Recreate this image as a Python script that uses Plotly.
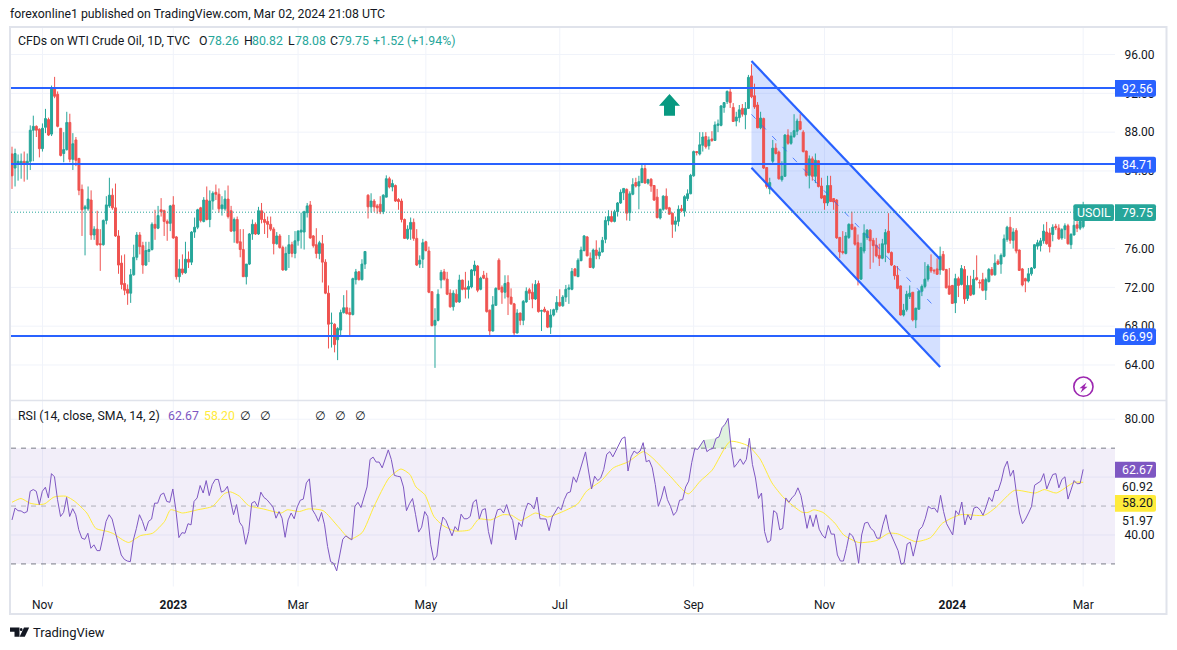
"""WTI crude daily candles with RSI pane, TradingView look."""

import plotly.graph_objects as go
import numpy as np

COLORS = {
    "up": "#26a69a",
    "down": "#ef5350",
    "blue": "#2962ff",
    "rsi": "#7e57c2",
    "sma": "#ffeb3b",
    "text": "#131722",
    "grid": "#f0f3fa",
    "border": "#e0e3eb",
    "arrow": "#089981",
    "bolt": "#9c27b0",
}
FONT = "Roboto, sans-serif"

# ── Price data ────────────────────────────────────────────────────────────

opens = [
    85.75, 84.3, 84.8, 84.8, 85.0, 84.8, 85.0, 88.2, 88.6, 88.3,
    86.3, 88.5, 89.3, 87.8, 92.5, 91.9, 88.4, 85.8, 86.2, 89.0,
    85.2, 87.2, 85.3, 82.1, 80.1, 80.1, 81.0, 77.4, 78.0, 76.5,
    76.4, 78.9, 80.4, 81.5, 80.2, 77.3, 74.5, 72.4, 71.8, 71.4,
    73.3, 75.1, 77.4, 76.3, 74.3, 75.7, 75.9, 78.5, 78.1, 80.0,
    79.9, 78.8, 78.6, 80.5, 77.2, 73.1, 73.9, 73.5, 74.9, 74.6,
    77.7, 78.2, 80.2, 78.8, 81.0, 79.0, 80.9, 81.8, 81.6, 80.1,
    80.1, 81.1, 79.9, 77.8, 79.0, 76.7, 75.9, 73.1, 74.4, 77.5,
    78.5, 77.5, 79.9, 79.0, 78.8, 78.5, 78.0, 76.5, 77.3, 76.1,
    73.8, 75.5, 76.4, 75.5, 76.8, 77.7, 77.7, 79.7, 80.5, 77.3,
    76.4, 75.5, 76.5, 74.6, 71.4, 68.3, 68.2, 66.6, 67.6, 69.4,
    69.9, 69.4, 69.2, 72.8, 73.6, 72.8, 74.4, 81.5, 80.3, 80.9,
    80.4, 80.57, 79.8, 81.3, 83.2, 82.35, 82.5, 81.05, 80.9, 79.0,
    77.05, 78.0, 78.7, 77.05, 74.4, 74.9, 76.7, 75.75, 71.55, 68.1,
    68.6, 72.75, 73.6, 72.85, 71.4, 70.0, 71.3, 70.5, 72.75, 71.95,
    71.8, 72.05, 73.7, 74.2, 71.8, 73.25, 72.95, 69.65, 67.5, 70.15,
    74.8, 72.0, 71.5, 72.5, 71.0, 70.3, 67.3, 69.35, 68.6, 70.5,
    71.75, 71.5, 70.8, 72.4, 69.55, 69.75, 69.55, 67.9, 69.15, 69.7,
    70.45, 70.1, 71.0, 71.8, 71.8, 73.9, 73.1, 74.75, 75.8, 77.2,
    75.0, 74.05, 75.85, 75.25, 75.65, 76.95, 78.85, 79.3, 78.8, 79.8,
    80.7, 81.75, 82.1, 79.7, 81.6, 82.8, 82.45, 82.8, 84.25, 82.75,
    83.15, 82.5, 81.3, 79.15, 80.05, 81.4, 80.2, 79.65, 78.5, 78.8,
    80.1, 79.85, 81.15, 81.65, 83.5, 86.0, 85.75, 86.65, 87.55, 86.6,
    87.3, 87.15, 88.7, 88.7, 90.55, 91.15, 92.15, 90.55, 89.15, 89.5,
    90.45, 89.8, 90.45, 93.8, 91.75, 90.8, 88.45, 89.4, 84.35, 82.15,
    85.0, 86.35, 85.95, 83.1, 83.45, 87.7, 86.85, 87.55, 88.1, 89.1,
    88.0, 86.05, 83.55, 85.25, 83.45, 85.05, 82.45, 81.45, 80.7, 82.5,
    81.15, 81.0, 77.15, 75.7, 75.5, 77.15, 78.5, 78.15, 76.6, 72.85,
    75.75, 77.15, 77.9, 76.85, 76.35, 75.3, 75.0, 76.45, 77.8, 75.6,
    74.2, 73.25, 72.15, 69.15, 69.7, 71.05, 71.5, 68.65, 69.75, 71.6,
    72.1, 72.85, 74.05, 73.75, 73.9, 73.8, 75.4, 73.85, 72.15, 72.2,
    70.4, 72.9, 72.3, 73.85, 70.85, 72.2, 71.3, 73.0, 72.5, 72.8,
    71.7, 72.6, 73.85, 73.3, 74.7, 74.4, 75.2, 76.95, 78.2, 76.85,
    77.85, 75.85, 73.9, 72.9, 72.65, 73.4, 74.0, 76.25, 76.3, 76.8,
    77.7, 77.6, 77.45, 78.3, 78.1, 77.1, 77.95, 78.35, 76.4, 77.4,
    78.45, 78.1, 78.26,
]
highs = [
    86.5, 86.3, 85.7, 85.8, 86.0, 85.8, 88.7, 89.7, 88.7, 88.4,
    88.9, 90.4, 89.5, 92.8, 93.7, 92.2, 88.4, 88.0, 90.1, 89.9,
    87.9, 87.5, 85.3, 82.6, 80.5, 82.4, 82.0, 78.3, 79.9, 78.0,
    79.0, 81.4, 83.3, 82.2, 82.7, 77.9, 75.3, 75.4, 72.3, 73.9,
    76.4, 77.7, 77.7, 76.7, 76.7, 76.7, 78.7, 80.0, 80.4, 81.2,
    80.0, 79.0, 80.5, 81.4, 77.3, 74.9, 75.4, 76.7, 75.7, 77.8,
    79.2, 80.1, 80.3, 81.3, 82.4, 82.0, 81.9, 82.6, 82.2, 81.4,
    82.0, 82.5, 80.4, 79.2, 79.3, 78.0, 78.0, 74.4, 77.6, 79.0,
    78.7, 80.3, 80.7, 79.7, 79.3, 79.3, 78.2, 77.7, 77.5, 76.3,
    76.2, 77.4, 76.7, 77.8, 77.9, 79.7, 79.9, 80.7, 80.9, 77.4,
    78.1, 76.8, 77.4, 74.9, 72.2, 69.4, 68.3, 67.9, 69.7, 71.2,
    71.7, 69.9, 73.0, 73.9, 73.7, 74.9, 75.7, 81.6, 81.7, 81.1,
    80.6, 81.4, 81.6, 83.55, 83.4, 83.1, 82.6, 81.2, 81.15, 79.1,
    78.4, 79.2, 79.1, 78.0, 75.3, 77.0, 76.8, 76.2, 71.6, 69.85,
    71.8, 73.8, 73.9, 73.6, 71.8, 71.7, 71.8, 73.3, 72.8, 73.6,
    72.7, 73.9, 74.75, 74.3, 73.1, 73.7, 73.5, 69.7, 71.1, 72.0,
    75.0, 72.2, 73.25, 73.25, 71.9, 70.4, 69.75, 69.4, 70.7, 72.0,
    71.95, 72.4, 72.75, 72.7, 69.7, 70.0, 69.6, 69.75, 69.8, 71.1,
    71.8, 71.2, 72.25, 72.3, 74.0, 74.0, 75.0, 76.2, 77.4, 77.3,
    75.6, 76.0, 76.85, 76.1, 77.2, 79.3, 79.95, 79.9, 80.0, 80.8,
    82.1, 82.2, 82.2, 81.9, 83.25, 83.3, 83.5, 84.8, 84.8, 83.2,
    83.25, 82.5, 82.15, 80.1, 81.5, 82.2, 80.3, 79.7, 79.3, 80.45,
    80.5, 81.5, 82.1, 83.7, 86.1, 86.05, 88.0, 88.0, 88.0, 87.55,
    88.1, 89.1, 89.3, 90.8, 91.1, 92.3, 92.6, 91.0, 90.1, 90.8,
    90.9, 91.1, 93.9, 95.0, 93.0, 91.1, 90.1, 89.5, 84.4, 83.3,
    87.2, 86.85, 86.1, 85.0, 87.8, 88.3, 88.0, 89.85, 89.4, 89.85,
    88.2, 86.1, 85.6, 85.5, 85.8, 85.1, 83.3, 81.5, 83.5, 83.5,
    81.2, 81.1, 77.2, 77.8, 77.7, 78.6, 79.8, 78.3, 77.45, 76.6,
    78.5, 78.0, 78.0, 77.1, 77.1, 76.5, 77.0, 78.0, 79.65, 75.7,
    74.3, 74.2, 72.2, 70.3, 71.65, 72.2, 71.5, 69.9, 71.7, 72.3,
    74.6, 74.4, 75.4, 73.9, 75.0, 76.2, 75.75, 73.9, 74.0, 72.25,
    73.4, 73.1, 74.3, 74.2, 73.2, 73.2, 73.8, 75.3, 72.8, 73.5,
    73.0, 74.0, 74.1, 75.4, 74.9, 75.5, 77.45, 78.35, 79.25, 78.1,
    78.1, 75.9, 74.0, 73.0, 74.0, 74.1, 76.45, 76.9, 77.1, 78.5,
    78.75, 78.1, 78.5, 78.55, 78.5, 78.1, 78.6, 78.55, 77.6, 78.9,
    79.6, 79.3, 80.82,
]
lows = [
    82.15, 82.4, 83.0, 83.2, 82.9, 83.1, 84.1, 85.0, 87.5, 85.4,
    86.0, 87.9, 87.6, 87.6, 91.5, 88.5, 85.5, 84.9, 86.1, 84.9,
    84.1, 84.5, 81.5, 77.3, 75.3, 79.9, 76.9, 76.9, 76.3, 73.7,
    76.3, 78.5, 80.2, 80.0, 77.2, 73.4, 71.8, 71.2, 70.2, 70.4,
    73.2, 74.8, 75.4, 73.4, 74.2, 74.6, 75.8, 76.9, 78.0, 79.3,
    77.3, 76.8, 77.8, 77.0, 72.8, 72.5, 73.3, 73.4, 74.0, 74.3,
    77.1, 78.0, 78.7, 78.7, 78.9, 78.2, 80.0, 81.0, 79.7, 79.4,
    79.9, 79.1, 77.7, 76.6, 76.5, 75.1, 73.1, 72.3, 74.3, 76.9,
    77.4, 77.4, 78.6, 77.5, 77.1, 77.8, 75.4, 76.4, 76.0, 73.7,
    73.7, 74.0, 75.1, 75.0, 76.3, 76.0, 75.9, 79.2, 77.0, 76.1,
    75.0, 74.9, 72.5, 71.3, 65.7, 65.8, 65.3, 64.5, 66.9, 69.3,
    69.2, 67.0, 69.1, 72.3, 72.7, 72.7, 73.9, 79.1, 79.7, 79.8,
    79.6, 79.55, 79.55, 81.3, 82.2, 81.9, 80.8, 80.0, 78.7, 77.0,
    76.9, 76.9, 76.8, 74.2, 74.0, 74.0, 75.7, 71.4, 68.0, 63.7,
    68.5, 71.9, 72.7, 71.2, 69.9, 69.6, 70.4, 70.4, 71.7, 70.85,
    70.85, 71.9, 73.2, 71.5, 71.7, 72.85, 69.4, 67.0, 67.45, 70.1,
    71.7, 70.3, 70.85, 69.15, 70.2, 67.0, 67.25, 68.1, 68.1, 70.4,
    70.7, 69.85, 70.7, 69.4, 67.5, 69.4, 67.8, 67.2, 69.0, 69.4,
    70.0, 70.0, 70.5, 70.3, 71.7, 73.15, 73.1, 74.7, 75.7, 75.2,
    74.0, 73.9, 74.9, 74.9, 75.6, 76.55, 78.4, 78.7, 78.7, 79.3,
    80.6, 81.0, 78.9, 78.85, 81.5, 82.3, 80.05, 82.75, 82.7, 82.6,
    81.85, 80.9, 79.1, 79.0, 79.9, 80.0, 79.5, 77.1, 77.75, 78.3,
    79.75, 79.3, 80.9, 81.6, 83.4, 85.6, 85.6, 86.0, 86.3, 86.2,
    87.0, 87.1, 88.0, 88.6, 90.0, 90.9, 90.5, 89.05, 88.6, 89.0,
    89.6, 88.3, 90.4, 91.5, 90.4, 88.4, 88.3, 84.2, 82.2, 81.6,
    84.7, 85.7, 83.1, 82.9, 83.4, 86.7, 86.7, 87.4, 87.7, 88.2,
    85.9, 83.4, 82.2, 83.0, 82.75, 82.3, 81.1, 80.0, 80.4, 80.8,
    80.0, 77.0, 75.0, 75.4, 75.4, 77.0, 77.9, 76.3, 72.2, 72.8,
    75.5, 76.9, 73.9, 74.55, 75.1, 74.2, 74.9, 74.6, 75.5, 74.2,
    72.8, 71.8, 69.1, 69.0, 69.5, 70.8, 68.5, 67.8, 69.7, 71.1,
    71.9, 72.6, 73.5, 73.4, 73.3, 73.3, 73.7, 71.9, 71.25, 70.3,
    69.35, 71.0, 72.2, 70.3, 70.6, 71.1, 71.2, 72.7, 71.9, 71.6,
    70.7, 72.5, 73.2, 73.2, 74.3, 73.4, 75.1, 76.7, 76.5, 76.0,
    75.5, 73.7, 72.1, 71.5, 72.5, 73.2, 73.9, 75.9, 75.7, 76.5,
    76.4, 75.6, 76.75, 77.9, 76.9, 76.9, 77.0, 76.4, 75.95, 77.35,
    77.7, 77.9, 78.08,
]
closes = [
    83.5, 85.8, 85.0, 85.0, 84.8, 85.0, 88.2, 88.6, 88.2, 86.3,
    88.4, 89.4, 87.7, 92.6, 91.7, 88.6, 85.6, 86.2, 89.0, 85.2,
    86.8, 85.1, 82.0, 80.0, 80.3, 81.1, 77.4, 78.0, 76.4, 76.4,
    78.9, 80.5, 81.5, 80.2, 77.3, 74.3, 72.3, 71.7, 71.4, 73.3,
    75.1, 77.4, 76.2, 74.3, 75.8, 75.9, 78.5, 78.1, 79.4, 79.8,
    78.8, 78.6, 80.4, 77.1, 73.1, 73.9, 73.5, 74.9, 74.6, 77.7,
    78.2, 80.0, 78.9, 81.0, 79.0, 80.9, 81.7, 81.6, 80.1, 80.5,
    81.1, 79.3, 77.8, 79.0, 76.6, 75.9, 73.1, 74.4, 77.5, 78.5,
    77.5, 79.9, 79.0, 78.7, 78.5, 78.0, 76.5, 77.3, 76.1, 73.8,
    75.5, 76.4, 75.5, 76.8, 77.8, 77.9, 79.8, 80.4, 77.1, 76.3,
    75.5, 76.6, 74.6, 71.4, 68.2, 68.3, 66.1, 67.75, 69.4, 69.9,
    69.3, 69.2, 72.9, 73.6, 72.8, 74.4, 75.7, 80.3, 80.9, 80.3,
    80.2, 79.8, 81.5, 83.2, 82.35, 82.7, 80.9, 80.85, 79.0, 77.05,
    78.0, 78.7, 77.05, 74.3, 74.8, 76.6, 75.8, 71.5, 68.05, 68.6,
    71.3, 73.55, 72.85, 71.3, 70.0, 71.4, 70.5, 72.75, 71.8, 71.8,
    72.1, 73.8, 74.3, 71.7, 72.95, 72.95, 69.5, 67.5, 70.2, 71.9,
    71.8, 71.5, 72.4, 71.0, 70.3, 67.3, 69.35, 68.6, 70.55, 71.6,
    71.4, 70.8, 72.3, 69.5, 69.6, 69.5, 67.9, 69.15, 69.7, 70.45,
    70.1, 71.0, 71.8, 71.95, 73.65, 73.2, 74.8, 75.85, 77.3, 75.25,
    74.05, 75.85, 75.3, 75.65, 76.85, 78.9, 79.3, 78.8, 79.8, 80.7,
    81.8, 82.2, 79.65, 81.65, 82.6, 82.45, 82.9, 84.25, 82.75, 83.1,
    82.45, 81.0, 79.2, 80.05, 81.4, 80.1, 79.55, 78.5, 78.85, 80.05,
    79.9, 81.35, 81.65, 83.55, 86.0, 85.9, 86.7, 87.5, 86.5, 87.2,
    87.15, 88.75, 88.85, 90.7, 91.05, 92.2, 91.05, 89.1, 89.55, 90.3,
    89.85, 90.45, 93.65, 91.65, 90.6, 88.45, 89.45, 84.3, 82.4, 82.8,
    86.35, 85.8, 83.2, 83.45, 87.7, 86.85, 87.6, 88.15, 89.15, 88.3,
    86.0, 83.55, 85.25, 83.45, 85.1, 82.4, 81.2, 80.7, 82.5, 80.85,
    80.8, 77.1, 75.65, 75.6, 77.3, 78.5, 78.0, 76.45, 72.85, 76.1,
    77.6, 77.9, 76.8, 76.3, 75.25, 75.0, 76.5, 77.65, 75.6, 74.3,
    73.2, 71.9, 69.15, 69.65, 71.3, 71.4, 68.65, 69.85, 71.6, 72.1,
    72.85, 74.2, 73.7, 73.7, 73.35, 75.2, 73.8, 71.95, 71.3, 70.35,
    72.9, 72.2, 73.95, 70.8, 72.2, 71.2, 72.85, 72.8, 72.45, 71.7,
    72.8, 73.85, 73.3, 74.5, 74.4, 75.3, 77.0, 78.2, 76.85, 77.7,
    75.75, 73.75, 72.25, 72.65, 73.4, 74.0, 76.4, 76.6, 76.8, 77.8,
    76.5, 76.2, 78.2, 78.15, 77.0, 77.95, 78.35, 76.5, 77.45, 78.4,
    78.1, 78.8, 79.75,
]

# ── RSI data ──────────────────────────────────────────────────────────────

rsi = [
    45.2, 49.3, 48.4, 48.3, 47.6, 48.1, 55.1, 55.7, 55.1, 50.5,
    55.1, 56.5, 52.8, 61.2, 60.1, 52.2, 46.4, 47.8, 53.0, 46.4,
    49.1, 47.0, 41.8, 38.9, 38.5, 40.6, 35.4, 36.6, 34.6, 34.6,
    39.4, 44.7, 47.0, 45.5, 41.2, 36.6, 33.1, 31.6, 31.0, 30.8,
    38.3, 42.3, 47.0, 44.7, 41.4, 44.7, 45.5, 51.0, 51.0, 53.9,
    54.5, 51.6, 51.3, 55.9, 48.7, 39.1, 40.8, 40.6, 43.9, 43.5,
    51.6, 52.8, 57.1, 54.5, 58.8, 53.6, 57.4, 59.2, 59.2, 54.8,
    55.3, 56.8, 51.6, 47.0, 50.5, 44.4, 42.9, 36.8, 41.2, 51.0,
    51.6, 49.7, 54.8, 53.0, 52.2, 51.0, 49.7, 45.8, 48.1, 45.8,
    39.2, 45.2, 47.6, 45.6, 49.7, 52.0, 52.4, 58.0, 59.4, 48.7,
    47.0, 44.7, 47.8, 43.5, 36.0, 30.8, 30.2, 27.6, 33.1, 38.5,
    39.7, 39.1, 38.3, 49.9, 51.3, 49.5, 53.4, 56.6, 66.1, 66.9,
    65.2, 65.2, 63.2, 66.3, 69.4, 66.1, 60.6, 60.3, 60.1, 56.6,
    48.4, 50.8, 52.6, 47.0, 41.0, 42.7, 48.1, 46.4, 36.6, 31.3,
    32.7, 41.2, 46.2, 45.0, 42.3, 39.7, 42.9, 41.5, 47.2, 45.6,
    45.6, 46.4, 51.3, 52.2, 45.6, 48.7, 49.1, 41.2, 36.8, 45.2,
    48.7, 49.0, 47.6, 50.5, 47.0, 45.0, 38.3, 44.3, 42.9, 48.1,
    51.0, 50.5, 49.0, 53.1, 45.6, 45.6, 45.5, 41.5, 46.2, 47.9,
    49.7, 48.7, 52.2, 54.5, 54.9, 60.1, 58.2, 61.7, 65.0, 68.7,
    62.1, 55.9, 60.3, 58.8, 59.7, 62.6, 67.9, 68.8, 67.0, 69.0,
    71.3, 73.3, 73.9, 62.1, 67.0, 69.0, 68.2, 69.0, 71.9, 65.3,
    65.8, 63.2, 57.4, 49.9, 52.8, 56.8, 52.2, 49.9, 46.8, 48.1,
    52.0, 52.2, 56.6, 58.6, 65.0, 69.8, 69.6, 71.3, 72.8, 68.8,
    69.6, 69.9, 73.4, 73.9, 77.1, 78.3, 80.3, 70.2, 63.4, 64.7,
    66.3, 64.4, 66.1, 73.4, 64.4, 59.7, 52.6, 54.5, 41.2, 37.4,
    38.1, 48.4, 47.6, 41.8, 42.3, 52.8, 51.3, 52.8, 53.9, 56.3,
    53.6, 48.1, 42.3, 46.8, 42.9, 47.0, 42.0, 40.0, 38.9, 43.3,
    40.3, 40.3, 33.1, 31.0, 31.0, 35.4, 40.6, 39.7, 37.1, 30.2,
    40.0, 44.1, 44.4, 42.3, 41.4, 38.9, 38.9, 43.5, 47.0, 41.8,
    39.2, 37.1, 34.6, 29.9, 30.4, 36.9, 37.5, 32.7, 37.1, 41.8,
    42.9, 45.8, 49.9, 49.1, 49.3, 47.8, 53.7, 48.1, 43.9, 42.0,
    40.0, 48.4, 47.0, 51.4, 43.5, 47.0, 45.2, 49.3, 49.7, 48.7,
    46.8, 49.7, 53.0, 51.6, 55.4, 55.4, 58.6, 63.2, 65.5, 60.3,
    62.4, 54.5, 47.6, 43.9, 45.5, 47.6, 49.9, 57.2, 58.0, 58.6,
    61.2, 55.9, 58.6, 60.9, 61.2, 56.3, 59.2, 60.1, 52.4, 55.9,
    58.8, 57.7, 57.8, 62.67,
]
sma_bars = [
    0, 3, 6, 9, 11, 14, 18, 21, 25, 28, 32, 34, 37, 39, 43, 47, 51, 53, 57,
    62, 67, 71, 73, 76, 79, 84, 90, 92, 96, 99, 104, 109, 113, 117, 121, 126,
    130, 133, 135, 138, 141, 144, 148, 153, 156, 160, 164, 167, 170, 175, 179,
    183, 189, 192, 197, 201, 206, 211, 214, 220, 226, 230, 234, 240, 246, 250,
    254, 258, 264, 266, 268, 271, 275, 278, 283, 289, 293, 296, 302, 307, 311,
    317, 325, 329, 335, 342, 345, 349, 355, 358,
]
sma_vals = [
    51.3, 52.6, 51.0, 50.5, 50.8, 53.1, 53.4, 51.6, 47.6, 42.3, 41.2, 40.4,
    38.3, 37.4, 39.8, 40.6, 44.7, 48.7, 47.6, 48.7, 49.9, 54.3, 54.9, 53.4,
    50.2, 49.0, 47.6, 48.7, 48.1, 49.0, 48.4, 42.9, 38.6, 40.8, 49.9, 59.7,
    62.8, 60.9, 56.6, 53.9, 46.4, 43.3, 41.4, 41.8, 45.5, 45.2, 47.0, 46.8,
    45.0, 47.6, 46.2, 47.6, 50.7, 55.1, 58.8, 63.2, 65.3, 68.8, 66.7, 60.3,
    54.2, 58.6, 62.4, 72.3, 70.8, 66.3, 58.0, 52.8, 47.9, 47.8, 48.7, 47.8,
    44.1, 40.0, 37.4, 38.1, 40.6, 40.4, 37.7, 39.1, 44.1, 47.0, 46.8, 49.7,
    55.4, 54.5, 55.7, 54.5, 58.2, 58.2,
]

# ── Axis ticks and drawings ───────────────────────────────────────────────

date_ticks = [10, 53, 94, 136, 180, 224, 267, 309, 352]
date_labels = ["Nov", "<b>2023</b>", "Mar", "May", "Jul", "Sep", "Nov", "<b>2024</b>", "Mar"]
price_ticks = [64, 68, 72, 76, 80, 84, 88, 92, 96]
rsi_ticks = [40, 60, 80]
rsi_labels = ["40.00", "", "80.00"]
levels = [92.56, 84.71, 66.99]
last_price = 79.75

channel_x = [243, 305]
channel_top = [95.33, 74.9]
channel_bottom = [84.33, 63.8]
channel_mid_x = [243, 304]
channel_mid = [89.84, 69.73]

W, H = 1177, 650
PANE_L, PANE_R = 11, 1115


def px(x):
    return x / W


def py(y):
    return 1 - y / H


def poly(points):
    return "M" + " L".join(f"{px(x):.5f},{py(y):.5f}" for x, y in points) + " Z"


def tag(x0, x1, y0, y1, color, round_left=False):
    # price label box with rounded corners
    rl = 2 if round_left else 0
    r = 2
    path = (
        f"M{px(x0 + rl):.5f},{py(y0):.5f} L{px(x1 - r):.5f},{py(y0):.5f} "
        f"Q{px(x1):.5f},{py(y0):.5f} {px(x1):.5f},{py(y0 + r):.5f} "
        f"L{px(x1):.5f},{py(y1 - r):.5f} Q{px(x1):.5f},{py(y1):.5f} {px(x1 - r):.5f},{py(y1):.5f} "
        f"L{px(x0 + rl):.5f},{py(y1):.5f} Q{px(x0):.5f},{py(y1):.5f} {px(x0):.5f},{py(y1 - rl):.5f} "
        f"L{px(x0):.5f},{py(y0 + rl):.5f} Q{px(x0):.5f},{py(y0):.5f} {px(x0 + rl):.5f},{py(y0):.5f} Z"
    )
    return dict(type="path", path=path, xref="paper", yref="paper",
                fillcolor=color, line=dict(width=0), layer="above")


def text(x, y, s, color=COLORS["text"], size=12.3, anchor="left", family=FONT):
    return dict(x=px(x), y=py(y), xref="paper", yref="paper", text=s, showarrow=False,
                xanchor=anchor, yanchor="middle", align=anchor,
                font=dict(color=color, size=size, family=family),
                borderpad=0, borderwidth=0)


bars = list(range(len(closes)))
rsi_x = np.linspace(0, len(closes) - 1, len(rsi))
sma_x = [b * (len(closes) - 1) / sma_bars[-1] for b in sma_bars]

fig = go.Figure()

fig.add_trace(go.Candlestick(
    x=bars, open=opens, high=highs, low=lows, close=closes,
    increasing=dict(line=dict(color=COLORS["up"], width=1), fillcolor=COLORS["up"]),
    decreasing=dict(line=dict(color=COLORS["down"], width=1), fillcolor=COLORS["down"]),
    whiskerwidth=0, xaxis="x", yaxis="y", showlegend=False, hoverinfo="skip",
))

# channel outlines and midline
for ys in (channel_top, channel_bottom):
    fig.add_trace(go.Scatter(
        x=channel_x, y=ys, mode="lines", line=dict(color=COLORS["blue"], width=2.2),
        xaxis="x", yaxis="y", showlegend=False, hoverinfo="skip",
    ))
fig.add_trace(go.Scatter(
    x=channel_mid_x, y=channel_mid, mode="lines",
    line=dict(color="rgba(41,98,255,0.75)", width=1, dash="6px,9px"),
    xaxis="x", yaxis="y", showlegend=False, hoverinfo="skip",
))

# RSI overbought fill around the September peak
peak = [i for i, v in enumerate(rsi) if v > 70 and 225 < i < 240]
peak_x = [rsi_x[i] for i in peak]
fig.add_trace(go.Scatter(
    x=[peak_x[0] - 1] + peak_x + [peak_x[-1] + 1],
    y=[70] + [rsi[i] for i in peak] + [70],
    mode="lines", line=dict(width=0), fill="toself", fillcolor="rgba(76,175,80,0.18)",
    xaxis="x", yaxis="y2", showlegend=False, hoverinfo="skip",
))
fig.add_trace(go.Scatter(
    x=sma_x, y=sma_vals, mode="lines", line=dict(color=COLORS["sma"], width=1, shape="spline", smoothing=0.6),
    xaxis="x", yaxis="y2", showlegend=False, hoverinfo="skip",
))
fig.add_trace(go.Scatter(
    x=rsi_x, y=rsi, mode="lines", line=dict(color=COLORS["rsi"], width=1),
    xaxis="x", yaxis="y2", showlegend=False, hoverinfo="skip",
))

# grid as shapes so the fills can sit on top of it
grid_line = dict(color=COLORS["grid"], width=1)
shapes = []
for v in date_ticks:
    shapes.append(dict(type="line", xref="x", yref="paper", x0=v, x1=v, y0=py(586.5), y1=py(27),
                       line=grid_line, layer="below"))
for v in price_ticks:
    shapes.append(dict(type="line", xref="x domain", yref="y", x0=0, x1=1, y0=v, y1=v,
                       line=grid_line, layer="below"))
for v in rsi_ticks:
    shapes.append(dict(type="line", xref="x domain", yref="y2", x0=0, x1=1, y0=v, y1=v,
                       line=grid_line, layer="below"))

shapes += [
    # RSI band
    dict(type="rect", xref="x domain", yref="y2", x0=0, x1=1, y0=30, y1=70,
         fillcolor="rgba(126,87,194,0.1)", line=dict(width=0), layer="below"),
    # channel fill
    dict(type="path", xref="x", yref="y", layer="below", line=dict(width=0),
         fillcolor="rgba(41,98,255,0.2)",
         path=f"M{channel_x[0]},{channel_top[0]} L{channel_x[1]},{channel_top[1]} "
              f"L{channel_x[1]},{channel_bottom[1]} L{channel_x[0]},{channel_bottom[0]} Z"),
    # last price dotted line
    dict(type="line", xref="x domain", yref="y", x0=0, x1=1, y0=last_price, y1=last_price,
         line=dict(color=COLORS["up"], width=1, dash="1px,2px"), layer="above"),
    # frame and pane separator
    dict(type="rect", xref="paper", yref="paper", x0=px(10), x1=px(1166.5), y0=py(614), y1=py(27),
         line=dict(color=COLORS["border"], width=2), layer="above"),
    dict(type="line", xref="paper", yref="paper", x0=px(10), x1=px(1166.5), y0=py(400.5), y1=py(400.5),
         line=dict(color=COLORS["border"], width=1.5), layer="above"),
    # arrow drawing
    dict(type="path", xref="paper", yref="paper", fillcolor=COLORS["arrow"], line=dict(width=0), layer="above",
         path=poly([(669.5, 94), (680, 105.7), (675, 105.7), (675, 115.7), (664, 115.7), (664, 105.7), (659, 105.7)])),
    # lightning badge
    dict(type="circle", xref="paper", yref="paper", x0=px(1073.8), x1=px(1093), y0=py(396.3), y1=py(377),
         line=dict(color=COLORS["bolt"], width=1.6), layer="above"),
    dict(type="path", xref="paper", yref="paper", fillcolor=COLORS["bolt"], line=dict(width=0), layer="above",
         path=poly([(1086.5, 382.5), (1079.5, 388.3), (1082.5, 388.3), (1080.5, 392.8), (1087.5, 386.7), (1084.5, 386.7)])),
    # logo
    dict(type="path", xref="paper", yref="paper", fillcolor=COLORS["text"], line=dict(width=0), layer="above",
         path=poly([(10, 627.5), (19.5, 627.5), (19.5, 636.8), (14.5, 636.8), (14.5, 631.8), (10, 631.8)])),
    dict(type="circle", xref="paper", yref="paper", x0=px(19.8), x1=px(22.6), y0=py(631), y1=py(628),
         fillcolor=COLORS["text"], line=dict(width=0), layer="above"),
    dict(type="path", xref="paper", yref="paper", fillcolor=COLORS["text"], line=dict(width=0), layer="above",
         path=poly([(24, 627.5), (29.2, 627.5), (24.8, 636.8), (19.6, 636.8)])),
]

# drawn support and resistance levels
for lv in levels:
    shapes.append(dict(type="line", xref="x domain", yref="y", x0=0, x1=1, y0=lv, y1=lv,
                       line=dict(color=COLORS["blue"], width=2), layer="above"))

# RSI guide lines
for lv, col in ((70, "#787b86"), (50, "rgba(120,123,134,0.55)"), (30, "#787b86")):
    shapes.append(dict(type="line", xref="x domain", yref="y2", x0=0, x1=1, y0=lv, y1=lv,
                       line=dict(color=col, width=1, dash="5px,5px"), layer="below"))

# price tags
shapes += [
    tag(1115, 1156, 80, 96.7, COLORS["blue"]),
    tag(1115, 1156, 156.7, 172.7, COLORS["blue"]),
    tag(1115, 1156, 328.3, 345, COLORS["blue"]),
    tag(1073.3, 1114, 204.3, 221, COLORS["up"], round_left=True),
    tag(1115, 1156, 204.3, 221, COLORS["up"]),
    tag(1115, 1156, 461.7, 477.7, COLORS["rsi"]),
    tag(1115, 1156, 495, 511.7, COLORS["sma"]),
]

annotations = [
    text(10, 14, "forexonline1 published on TradingView.com, Mar 02, 2024 21:08 UTC"),
    text(18, 41, "CFDs on WTI Crude Oil, 1D, TVC"),
    text(199, 41, "O"), text(208, 41, "78.26", COLORS["up"]),
    text(244, 41, "H"), text(252, 41, "80.82", COLORS["up"]),
    text(288, 41, "L"), text(295, 41, "78.08", COLORS["up"]),
    text(330, 41, "C"), text(338, 41, "79.75", COLORS["up"]),
    text(373, 41, "+1.52 (+1.94%)", COLORS["up"]),
    text(18, 416, "RSI (14, close, SMA, 14, 2)"),
    text(168, 416, "62.67", COLORS["rsi"]),
    text(204, 416, "58.20", COLORS["sma"]),
    text(1137, 88.5, "92.56", "#ffffff"),
    text(1137, 164.7, "84.71", "#ffffff"),
    text(1137, 336.7, "66.99", "#ffffff"),
    text(1137, 212.6, "79.75", "#ffffff"),
    text(1093.5, 212.6, "USOIL", "#ffffff"),
    text(1137, 469.7, "62.67", "#ffffff"),
    text(1137, 486.7, "60.92"),
    text(1137, 503.3, "58.20"),
    text(1137, 520.7, "51.97"),
    text(33, 632.5, "TradingView", size=13),
]
annotations = [dict(a, xanchor="center") if a["x"] > px(1090) else a for a in annotations]
for x in (245, 265, 320, 340, 360):
    annotations.append(text(x, 416, "∅", size=12, anchor="center", family="DejaVu Sans"))

fig.update_layout(
    width=W, height=H, margin=dict(l=0, r=0, t=0, b=0),
    paper_bgcolor="#ffffff", plot_bgcolor="#ffffff",
    font=dict(family=FONT, color=COLORS["text"], size=12),
    showlegend=False, hovermode=False, boxgap=0.2, boxgroupgap=0.2,
    xaxis=dict(
        domain=[px(PANE_L), px(PANE_R)], range=[-0.33, 362.46], anchor="y2",
        tickmode="array", tickvals=date_ticks, ticktext=date_labels,
        showgrid=False, zeroline=False, showline=False,
        ticks="outside", ticklen=7, tickcolor="rgba(0,0,0,0)",
        tickfont=dict(size=12, color=COLORS["text"]), rangeslider=dict(visible=False),
    ),
    yaxis=dict(
        domain=[py(400), py(27)], range=[60.39, 98.84], anchor="x", side="right",
        tickmode="array", tickvals=price_ticks, ticktext=[f"{v:.2f}" for v in price_ticks],
        showgrid=False, zeroline=False, showline=False,
        ticks="outside", ticklen=6, tickcolor="rgba(0,0,0,0)",
        tickfont=dict(size=12, color=COLORS["text"]),
    ),
    yaxis2=dict(
        domain=[py(586.5), py(401)], range=[22.2, 86.3], anchor="x", side="right",
        tickmode="array", tickvals=rsi_ticks, ticktext=rsi_labels,
        showgrid=False, zeroline=False, showline=False,
        ticks="outside", ticklen=6, tickcolor="rgba(0,0,0,0)",
        tickfont=dict(size=12, color=COLORS["text"]),
    ),
    shapes=shapes, annotations=annotations,
)

fig.write_html("out.html", config={"displayModeBar": False},
               post_script="document.body.style.margin='0';document.body.style.overflow='hidden';")
